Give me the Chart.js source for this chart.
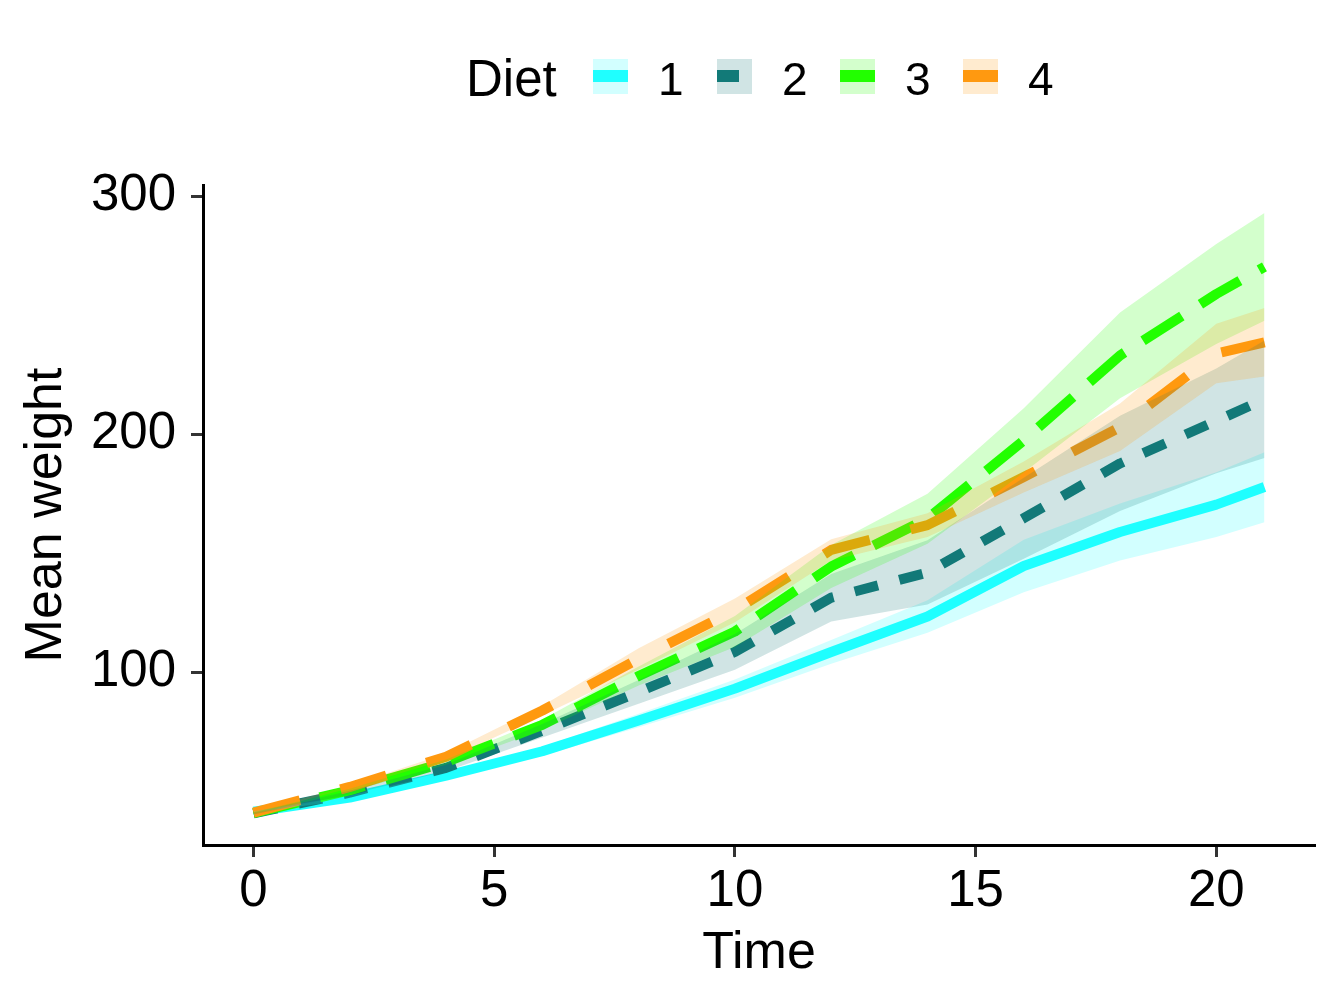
<!DOCTYPE html>
<html>
<head>
<meta charset="utf-8">
<title>Mean weight by Diet</title>
<script src="https://cdn.jsdelivr.net/npm/chart.js@4"></script>
<style>
  html, body { margin: 0; padding: 0; background: #fff; }
  #wrap { position: relative; width: 1344px; height: 1008px; font-family: "Liberation Sans", Arial, sans-serif; color: #000; }
  #chart { position: absolute; left: 0; top: 0; }
  .legend-title { position: absolute; left: 466px; top: 53px; font-size: 51px; line-height: 51px; }
  .key { position: absolute; top: 59px; width: 35px; height: 35px; }
  .key .stroke { position: absolute; left: 0; top: 11px; height: 12px; }
  .lab { position: absolute; top: 56px; font-size: 46px; line-height: 46px; }
</style>
</head>
<body>
<div id="wrap">
  <canvas id="chart" width="1344" height="1008"></canvas>
  <div id="legend"></div>
</div>
<script>
// ChickWeight, mean weight (+/- se) per diet
const times = [0, 2, 4, 6, 8, 10, 12, 14, 16, 18, 20, 21];
const diets = ['1', '2', '3', '4'];

const diet1Mean = [41.4, 47.3, 56.5, 66.8, 79.7, 93.1, 108.5, 123.4, 144.6, 158.9, 170.4, 177.8];
const diet1Low  = [41.2, 46.3, 55.3, 64.9, 76.9, 89.3, 103.5, 116.6, 133.6, 146.9, 156.8, 163.0];
const diet1High = [41.6, 48.2, 57.7, 68.6, 82.5, 96.9, 113.5, 130.2, 155.7, 170.9, 184.0, 192.4];

const diet2Mean = [40.7, 49.4, 59.8, 75.4, 91.7, 108.5, 131.3, 141.9, 164.7, 187.7, 205.6, 214.7];
const diet2Low  = [40.2, 48.6, 58.4, 72.6, 86.7, 101.0, 121.3, 128.4, 147.7, 167.7, 183.6, 190.0];
const diet2High = [41.2, 50.2, 61.2, 78.2, 96.7, 116.0, 141.3, 155.4, 181.7, 207.7, 227.6, 239.4];

const diet3Mean = [40.8, 50.4, 62.2, 77.9, 98.4, 117.1, 144.4, 164.5, 197.4, 233.1, 258.9, 270.3];
const diet3Low  = [40.4, 49.8, 61.1, 75.7, 94.4, 110.6, 135.4, 154.0, 183.9, 215.1, 237.9, 247.7];
const diet3High = [41.2, 51.0, 63.3, 80.1, 102.4, 123.6, 153.4, 175.0, 210.9, 251.1, 279.9, 292.9];

const diet4Mean = [41.0, 51.8, 64.5, 83.9, 105.6, 126.0, 151.4, 161.8, 182.0, 202.9, 233.9, 238.6];
const diet4Low  = [40.6, 51.2, 63.2, 81.9, 101.1, 121.0, 146.9, 156.8, 175.5, 192.9, 221.4, 224.2];
const diet4High = [41.4, 52.4, 65.8, 85.9, 110.1, 131.0, 155.9, 166.8, 188.5, 212.9, 246.4, 253.0];

const xTicks = [0, 5, 10, 15, 20];
const yTicks = [100, 200, 300];

const lineColors = ['#1FFFFF', '#127A78', '#22FF00', '#FF9910'];
const ribbonColors = ['rgba(31,255,255,0.2)', 'rgba(18,122,120,0.2)', 'rgba(34,255,0,0.2)', 'rgba(255,153,16,0.2)'];
const dashes = [[], [24, 22], [46, 22], [48, 42]];

const means = [diet1Mean, diet2Mean, diet3Mean, diet4Mean];
const lows = [diet1Low, diet2Low, diet3Low, diet4Low];
const highs = [diet1High, diet2High, diet3High, diet4High];

const pts = arr => arr.map((v, i) => ({ x: times[i], y: v }));

// ribbons: upper (invisible) + lower filled to it; drawn over the lines like the original
const datasets = [];
diets.forEach((d, i) => {
    datasets.push({
        label: 'upper ' + d,
        data: pts(highs[i]),
        borderColor: 'rgba(0,0,0,0)',
        borderWidth: 0,
        pointRadius: 0,
        fill: false,
        order: 0
    });
    datasets.push({
        label: 'lower ' + d,
        data: pts(lows[i]),
        borderColor: 'rgba(0,0,0,0)',
        borderWidth: 0,
        pointRadius: 0,
        backgroundColor: ribbonColors[i],
        fill: '-1',
        order: 4 - i
    });
});
diets.forEach((d, i) => {
    datasets.push({
        label: 'Diet ' + d,
        data: pts(means[i]),
        borderColor: lineColors[i],
        borderWidth: 10,
        borderDash: dashes[i],
        borderCapStyle: 'butt',
        borderJoinStyle: 'round',
        pointRadius: 0,
        fill: false,
        tension: 0,
        order: 13 - i
    });
});

const fontFamily = '"Liberation Sans", Arial, sans-serif';

new Chart(document.getElementById('chart'), {
    type: 'line',
    data: { datasets: datasets },
    options: {
        responsive: false,
        animation: false,
        events: [],
        layout: { padding: { top: 185, right: 29, left: 0, bottom: 0 } },
        plugins: {
            legend: { display: false },
            tooltip: { enabled: false },
            filler: { propagate: false }
        },
        scales: {
            x: {
                type: 'linear',
                min: -1.05,
                max: 22.05,
                afterBuildTicks: s => { s.ticks = xTicks.map(v => ({ value: v })); },
                afterFit: s => { s.height = 163; },
                ticks: { color: '#000', font: { family: fontFamily, size: 51 }, padding: 4, maxRotation: 0 },
                grid: { drawOnChartArea: false, drawTicks: true, tickLength: 12, tickWidth: 3, tickColor: '#333' },
                border: { display: true, color: '#000', width: 3 },
                title: { display: true, text: 'Time', color: '#000', font: { family: fontFamily, size: 52, lineHeight: 1 }, padding: { top: 0, bottom: 28 } }
            },
            y: {
                type: 'linear',
                min: 27.4,
                max: 304.7,
                afterBuildTicks: s => { s.ticks = yTicks.map(v => ({ value: v })); },
                afterFit: s => { s.width = 203; },
                ticks: { color: '#000', font: { family: fontFamily, size: 51 }, padding: 15 },
                grid: { drawOnChartArea: false, drawTicks: true, tickLength: 12, tickWidth: 3, tickColor: '#333' },
                border: { display: true, color: '#000', width: 3 },
                title: { display: true, text: 'Mean weight', color: '#000', font: { family: fontFamily, size: 52, lineHeight: 1 }, padding: { top: 21, bottom: 0 } }
            }
        }
    }
});

// legend, built as html above the canvas
const keyLefts = [593, 717, 840, 963];
const legend = document.getElementById('legend');
legend.insertAdjacentHTML('beforeend', '<div class="legend-title">Diet</div>');
diets.forEach((d, i) => {
    const strokeWidth = i === 1 ? 22 : 35;
    legend.insertAdjacentHTML('beforeend', `
        <div class="key" style="left:${keyLefts[i]}px;background:${ribbonColors[i]}">
            <div class="stroke" style="width:${strokeWidth}px;background:${lineColors[i]}"></div>
        </div>
        <div class="lab" style="left:${keyLefts[i] + 65}px">${d}</div>
    `);
});
</script>
</body>
</html>
